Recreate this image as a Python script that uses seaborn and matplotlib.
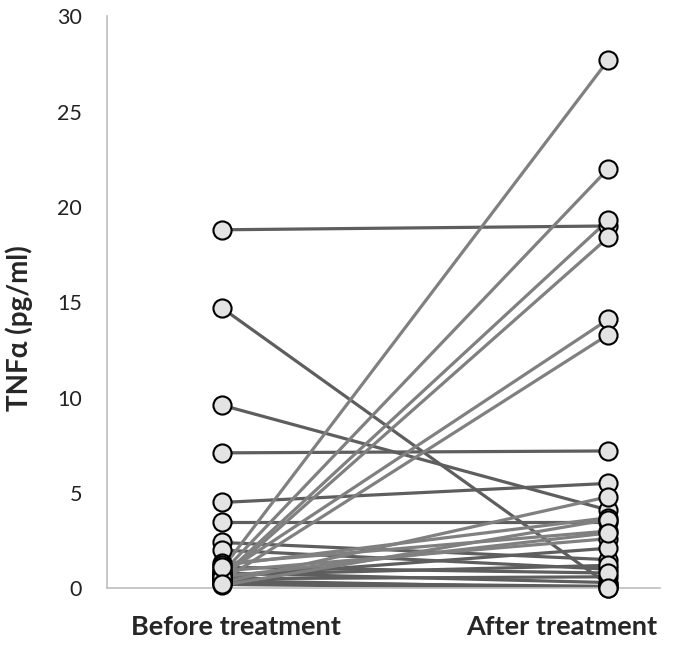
import matplotlib
matplotlib.use("Agg")
import matplotlib.pyplot as plt
import matplotlib.transforms as mtransforms
import seaborn as sns
import pandas as pd

# values, one pair per subject
before = [18.8, 14.7, 9.6, 7.1, 4.5, 3.5, 2.4, 2.0, 1.3, 1.0, 0.8, 0.6, 0.5, 0.7,
          0.4, 0.3, 1.2, 0.9, 0.6, 0.5, 0.8, 0.15, 0.4, 0.7, 0.3, 0.6, 1.1, 0.2]
after = [19.0, 0.2, 4.1, 7.2, 5.5, 3.5, 1.5, 1.0, 3.0, 27.7, 22.0, 19.3, 18.4, 14.1,
         13.3, 4.8, 3.7, 2.6, 2.1, 0.6, 0.3, 3.6, 0.0, 1.2, 0.1, 2.9, 0.8, 0.0]
time_labels = ["Before treatment", "After treatment"]

rows = []
for i, (b, a) in enumerate(zip(before, after)):
    trend = "up" if a > b + 1.5 else "down"
    rows.append({"subject": i, "time": 0, "value": b, "trend": trend})
    rows.append({"subject": i, "time": 1, "value": a, "trend": trend})
df = pd.DataFrame(rows)

sns.set_style("white")
plt.rcParams["font.family"] = ["Lato", "DejaVu Sans"]

fig = plt.figure(figsize=(6.85, 6.5), dpi=100)
ax = fig.add_axes([0.156, 0.095, 0.808, 0.88])

sns.lineplot(data=df, x="time", y="value", units="subject", estimator=None,
             hue="trend", palette={"up": "#808080", "down": "#5e5e5e"},
             linewidth=2.3, legend=False, ax=ax, zorder=2)
sns.scatterplot(data=df, x="time", y="value", s=170, color="#e3e3e3",
                edgecolor="black", linewidth=1.5, legend=False, ax=ax, zorder=3,
                clip_on=False)

ax.set_xlim(-0.298, 1.135)
ax.set_ylim(0, 30)
ax.set_yticks(range(0, 31, 5))
ax.set_xticks([0, 1])
ax.set_xticklabels(time_labels, fontsize=19.5, fontweight="bold")
ax.tick_params(axis="y", labelsize=15.5, length=0, pad=18, colors="#222222")
ax.tick_params(axis="x", length=0, pad=19)
# the category labels sit a little inward of the marker columns
for lab, dx in zip(ax.get_xticklabels(), [14, -46]):
    lab.set_transform(lab.get_transform() + mtransforms.ScaledTranslation(dx / 100, 0, fig.dpi_scale_trans))
ax.set_xlabel("")
ax.set_ylabel("TNFα (pg/ml)", fontsize=20, fontweight="bold")
ax.yaxis.set_label_coords(-0.134, 0.455)

for side in ["top", "right"]:
    ax.spines[side].set_visible(False)
ax.spines["left"].set_color("#bfbfbf")
ax.spines["bottom"].set_color("#bfbfbf")
ax.spines["left"].set_linewidth(1.2)
ax.spines["bottom"].set_linewidth(1.2)

fig.savefig("out.png", dpi=100)
